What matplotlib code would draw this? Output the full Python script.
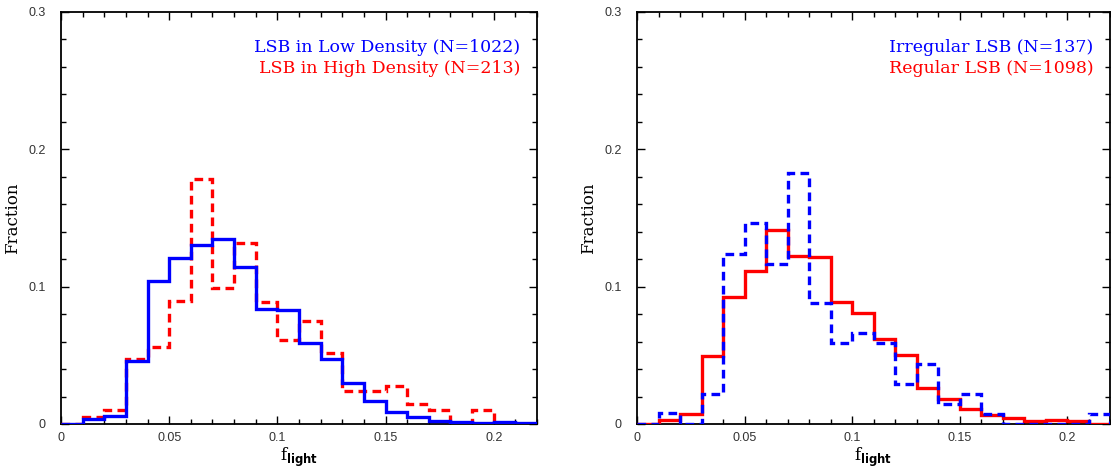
import numpy as np
import matplotlib.pyplot as plt
from matplotlib.ticker import MultipleLocator

# bin edges of f_light (0.01 wide)
bin_edges = np.linspace(0, 0.22, 23)

# left panel
low_density = [0, 0.0034, 0.006, 0.046, 0.104, 0.1206, 0.130, 0.135, 0.1146, 0.084,
               0.083, 0.059, 0.047, 0.030, 0.0167, 0.0085, 0.005, 0.002, 0.0015, 0.001,
               0.0015, 0.001]
high_density = [0, 0.005, 0.010, 0.047, 0.056, 0.0896, 0.1786, 0.0988, 0.1318, 0.089,
                0.061, 0.075, 0.0517, 0.0238, 0.0238, 0.028, 0.0143, 0.010, 0, 0.010,
                0, 0]

# right panel
regular = [0, 0.003, 0.0073, 0.0495, 0.0922, 0.1114, 0.1413, 0.1223, 0.1214, 0.0886,
           0.081, 0.062, 0.0505, 0.0265, 0.0184, 0.011, 0.0063, 0.0044, 0.002, 0.003,
           0.002, 0]
irregular = [0, 0.0078, 0, 0.0218, 0.124, 0.1466, 0.1165, 0.1825, 0.0879, 0.0587,
             0.066, 0.059, 0.0294, 0.044, 0.0148, 0.022, 0.0075, 0, 0, 0,
             0, 0.0075]

xticks = [0, 0.05, 0.1, 0.15, 0.2]
xticklabels = ["0", "0.05", "0.1", "0.15", "0.2"]
yticks = [0, 0.1, 0.2, 0.3]
yticklabels = ["0", "0.1", "0.2", "0.3"]

W, H = 1111, 468
fig = plt.figure(figsize=(W / 100, H / 100), dpi=100)
ax1 = fig.add_axes([61 / W, 44 / H, 476 / W, 412 / H])
ax2 = fig.add_axes([637 / W, 44 / H, 473 / W, 412 / H])

lw = 2.4
dash = (0, (2.6, 1.6))


def style(ax):
    ax.set_xlim(0, 0.22)
    ax.set_ylim(0, 0.3)
    ax.set_xticks(xticks)
    ax.set_xticklabels(xticklabels)
    ax.set_yticks(yticks)
    ax.set_yticklabels(yticklabels)
    ax.xaxis.set_minor_locator(MultipleLocator(0.01))
    ax.yaxis.set_minor_locator(MultipleLocator(0.02))
    ax.tick_params(which="both", direction="in", top=True, right=True,
                   width=1.0, labelsize=9, labelcolor="#333333",
                   labelfontfamily="Liberation Sans")
    ax.tick_params(which="major", length=6)
    ax.tick_params(axis="x", which="major", pad=6)
    ax.tick_params(axis="y", which="major", pad=11)
    ax.tick_params(which="minor", length=3.5)
    for s in ax.spines.values():
        s.set_linewidth(1.3)
    ax.set_ylabel("Fraction", family="DejaVu Serif", fontsize=12, labelpad=5)
    ax.set_xlabel(r"f$_{\mathbf{light}}$", family="DejaVu Serif", fontsize=12,
                  labelpad=1)


def label(ax, y, text, color):
    ax.text(0.965, y, text, color=color, transform=ax.transAxes,
            ha="right", va="center", family="DejaVu Serif", fontsize=12.5)


# left panel
ax1.stairs(high_density, bin_edges, color="red", lw=lw, linestyle=dash, zorder=3)
ax1.stairs(low_density, bin_edges, color="blue", lw=lw, zorder=3)
style(ax1)
label(ax1, 0.913, "LSB in Low Density (N=1022)", "blue")
label(ax1, 0.862, "LSB in High Density (N=213)", "red")

# right panel
ax2.stairs(regular, bin_edges, color="red", lw=lw, zorder=3)
ax2.stairs(irregular, bin_edges, color="blue", lw=lw, linestyle=dash, zorder=3)
style(ax2)
label(ax2, 0.913, "Irregular LSB (N=137)", "blue")
label(ax2, 0.862, "Regular LSB (N=1098)", "red")

fig.savefig("out.png", dpi=100)
